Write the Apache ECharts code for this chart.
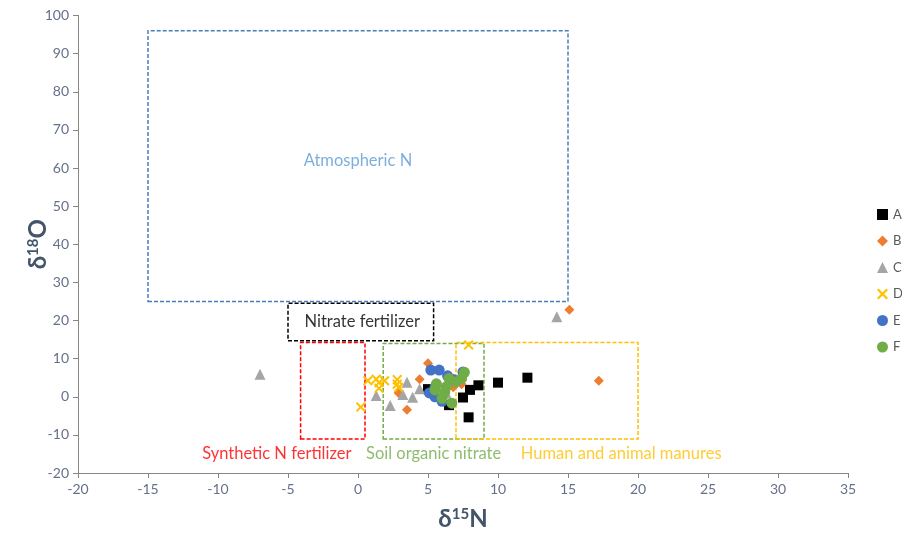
<!DOCTYPE html>
<html><head><meta charset="utf-8">
<script src="https://cdn.jsdelivr.net/npm/echarts@6/dist/echarts.min.js"></script>
<style>html,body{margin:0;padding:0;background:#fff}#c{width:902px;height:536px}</style>
</head><body><div id="c"></div>
<script>
// Series data [δ15N, δ18O]
const seriesNames = ['A','B','C','D','E','F'];
const dataA = [[5.0,2.0],[6.5,-2.2],[7.5,-0.2],[8.0,1.8],[8.6,3.0],[7.9,-5.4],[10.0,3.7],[12.1,5.0]];
const dataB = [[5.0,8.8],[4.4,4.6],[2.9,1.0],[3.5,-3.4],[6.8,2.5],[7.4,3.3],[15.1,22.8],[17.2,4.2]];
const dataC = [[-7.0,5.9],[1.3,0.3],[2.3,-2.3],[3.5,3.8],[3.2,0.6],[3.9,-0.1],[4.4,2.1],[6.3,0.9],[14.2,21.0]];
const dataD = [[0.7,4.2],[0.2,-2.7],[1.3,4.6],[1.5,3.7],[1.5,2.2],[1.9,4.2],[2.8,4.5],[2.8,3.3],[2.9,2.4],[7.9,13.6]];
const dataE = [[5.2,7.0],[5.8,7.0],[6.4,5.5],[5.1,1.0],[5.5,0.0],[6.0,-1.2],[7.5,6.5],[5.5,2.5],[6.8,4.5]];
const dataF = [[5.6,3.4],[5.5,1.8],[6.3,2.6],[6.5,4.8],[7.0,3.9],[7.4,4.8],[7.6,6.4],[6.0,-0.4],[6.7,-1.7],[6.2,1.3]];

// Source boxes: [x1, y1, x2, y2]
const boxNames = ['Atmospheric N','Nitrate fertilizer','Synthetic N fertilizer','Soil organic nitrate','Human and animal manures'];
const boxRects = [[-15,25,15,96],[-5,14.7,5.4,24.5],[-4.1,-11.1,0.5,14.2],[1.8,-11.1,9.0,14.0],[7.0,-11.1,20.0,14.2]];
// Box label anchor points [x, y]
const boxLabelPos = [[0,61.9],[0.3,19.6],[-5.8,-14.8],[5.4,-14.8],[18.8,-14.8]];

// Axis settings
const xMin = -20, xMax = 35, xStep = 5;
const yMin = -20, yMax = 100, yStep = 10;

const colors = ['#000000','#ED7D31','#A5A5A5','#FFC000','#4472C4','#70AD47'];
const boxColors = ['#4A7EBB','#000000','#FF0000','#70AD47','#FFC000'];
const labelColors = ['#5B9BD5','#000000','#FF0000','#70AD47','#FFC000'];
const xPath = 'path://M0,1.4L1.4,0L5,3.6L8.6,0L10,1.4L6.4,5L10,8.6L8.6,10L5,6.4L1.4,10L0,8.6L3.6,5Z';
const symbols = ['rect','diamond','triangle',xPath,'circle','circle'];
const sizes = [10,10,11,10,11,11];
const allData = [dataA,dataB,dataC,dataD,dataE,dataF];

const font = 'Lato';
const series = allData.map((d,i)=>({
  name: seriesNames[i], type:'scatter', data:d, symbol:symbols[i], symbolSize:sizes[i],
  itemStyle:{color:colors[i], opacity:1}, z: 5+i
}));
series.unshift({
  type:'scatter', data:[], silent:true, z:1,
  markArea:{silent:true, data: boxRects.map((r,i)=>[
    {coord:[r[0],r[1]], itemStyle:{color:'transparent', borderColor:boxColors[i], borderWidth:1.5, borderType:[4,2]}, label:{show:false}},
    {coord:[r[2],r[3]]}
  ])}
});
series.push({
  type:'scatter', silent:true, symbolSize:0, z:20,
  data: boxLabelPos.map((p,i)=>({value:p, name:boxNames[i], label:{color:labelColors[i]}})),
  label:{show:true, position:'inside', formatter:'{b}', fontFamily:font, fontSize:16.5}
});

const chart = echarts.init(document.getElementById('c'));
chart.setOption({
  animation:false,
  backgroundColor:'#fff',
  grid:{left:78, right:54, top:15.5, bottom:63},
  legend:{
    data: seriesNames, orient:'vertical', left:872, top:203, itemGap:13.5,
    itemWidth:11, itemHeight:11, textStyle:{color:'#595959', fontFamily:font, fontSize:13}, itemStyle:{}
  },
  xAxis:{
    type:'value', min:xMin, max:xMax, interval:xStep,
    splitLine:{show:false},
    axisLine:{onZero:false, lineStyle:{color:'#868686', width:1}},
    axisTick:{show:true, length:5, lineStyle:{color:'#868686'}},
    axisLabel:{color:'#657089', fontFamily:font, fontSize:14, margin:9},
    name:'{a|δ}{s|15}{a|N}', nameLocation:'middle', nameGap:34,
    nameTextStyle:{rich:{a:{fontFamily:font, fontSize:24, fontWeight:'bold', color:'#44546A'},
      s:{fontFamily:font, fontSize:15, fontWeight:'bold', color:'#44546A', padding:[0,0,9,0]}}}
  },
  yAxis:{
    type:'value', min:yMin, max:yMax, interval:yStep,
    splitLine:{show:false},
    axisLine:{onZero:false, lineStyle:{color:'#868686', width:1}},
    axisTick:{show:true, length:5, lineStyle:{color:'#868686'}},
    axisLabel:{color:'#657089', fontFamily:font, fontSize:14, margin:9},
    name:'{a|δ}{s|18}{a|O}', nameLocation:'middle', nameGap:28, nameRotate:90, nameMoveOverlap:false,
    nameTextStyle:{rich:{a:{fontFamily:font, fontSize:24, fontWeight:'bold', color:'#44546A'},
      s:{fontFamily:font, fontSize:15, fontWeight:'bold', color:'#44546A', padding:[0,0,9,0]}}}
  },
  series: series
});
</script></body></html>
